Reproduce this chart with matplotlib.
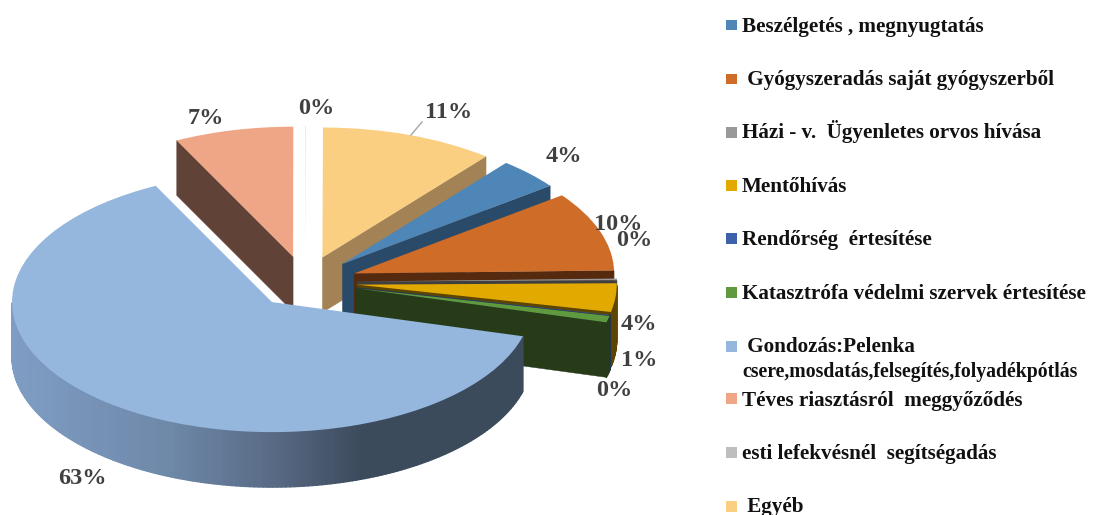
import numpy as np
import matplotlib
matplotlib.use('Agg')
import matplotlib.pyplot as plt
from matplotlib.collections import PolyCollection
from matplotlib.colors import LinearSegmentedColormap
from matplotlib.patches import Polygon, Rectangle

# ---------------- data ----------------
categories = ['Beszélgetés , megnyugtatás', ' Gyógyszeradás saját gyógyszerből',
              'Házi - v.  Ügyenletes orvos hívása', 'Mentőhívás', 'Rendőrség  értesítése',
              'Katasztrófa védelmi szervek értesítése', ' Gondozás:Pelenka',
              'Téves riasztásról  meggyőződés', 'esti lefekvésnél  segítségadás', ' Egyéb']
values = [3.9, 9.9, 0.2, 3.55, 0.05, 0.8, 63.4, 7.4, 0.02, 10.8]
pct_labels = ['4%', '10%', '0%', '4%', '0%', '1%', '63%', '7%', '0%', '11%']

# ---------------- styles ----------------
top_colors = ['#4F86B8', '#CF6C28', '#999999', '#E2A900', '#3D62AD',
              '#5F9B3E', '#95B6DD', '#EFA687', '#BEBEBE', '#FBCF82']
side_colors = ['#2A4A69', '#562A0E', '#3F3F3F', '#5C4500', '#1F3357',
               '#283B19', '#3C4B5C', '#614237', '#D8D8D8', '#A38355']
# back to front
draw_order = [8, 9, 7, 0, 1, 2, 3, 4, 5, 6]

label_px = [(564, 157), (618, 224), (634, 241), (639, 324), (614, 390), (639, 360),
            (82, 479), (206, 118), (316, 109), (449, 113)]
legend_text_y = [32, 85, 138, 191.5, 245, 299, 352, 406, 459, 512]
legend_box_y = [25, 79, 132, 185, 238, 292, 346, 398, 452, 506]

W, H = 1105, 515
CX, CY, RX, RY = 305, 282, 260, 130
DEPTH = 55 / RY


def px(x, y):
    return (x - CX) / RX, (CY - y) / RY


plt.rcParams['font.family'] = ['Liberation Serif', 'DejaVu Serif']
fig = plt.figure(figsize=(W / 100, H / 100), dpi=100)
ax = fig.add_axes([0, 0, 1, 1])

wedges, _ = ax.pie(values, colors=top_colors, startangle=51, counterclock=False,
                   explode=[0.2] * len(values), radius=1,
                   wedgeprops={'linewidth': 0})
ax.set_aspect('auto')
ax.set_xlim(px(0, 0)[0], px(W, 0)[0])
ax.set_ylim(px(0, H)[1], px(0, 0)[1])
ax.axis('off')

blue_side = LinearSegmentedColormap.from_list(
    'blue_side', [(0, '#7F9DC4'), (0.45, '#6E88A8'), (0.75, '#586A85'), (1, '#3C4B5C')])


def tip(w, a):
    return (w.center[0] + w.r * np.cos(np.radians(a)),
            w.center[1] + w.r * np.sin(np.radians(a)))


def draw_cut(w, a, color, z):
    tx, ty = tip(w, a)
    cx, cy = w.center
    pts = [(cx, cy), (tx, ty), (tx, ty - DEPTH), (cx, cy - DEPTH)]
    ax.add_patch(Polygon(pts, closed=True, facecolor=color, edgecolor=color,
                         linewidth=0.3, zorder=z))


# walls of every slice, then its top
for z, i in enumerate(draw_order):
    w = wedges[i]
    base = 2 * z + 2
    w.set_zorder(base + 1)
    # the straight cuts that look towards the viewer
    if np.sin(np.radians(w.theta1 - 90)) < -0.05:
        draw_cut(w, w.theta1, side_colors[i], base)
    if np.sin(np.radians(w.theta2 + 90)) < -0.05:
        draw_cut(w, w.theta2, side_colors[i], base)
    # the round outer wall, lower half only
    angs = np.linspace(w.theta1, w.theta2, max(3, int(abs(w.theta2 - w.theta1)) + 2))
    polys, cols = [], []
    for a0, a1 in zip(angs[:-1], angs[1:]):
        if np.sin(np.radians((a0 + a1) / 2)) > 0:
            continue
        p0, p1 = tip(w, a0), tip(w, a1)
        polys.append([p0, p1, (p1[0], p1[1] - DEPTH), (p0[0], p0[1] - DEPTH)])
        if i == 6:
            cols.append(blue_side(np.clip((p0[0] - px(12, 0)[0]) / (px(360, 0)[0] - px(12, 0)[0]), 0, 1)))
        else:
            cols.append(side_colors[i])
    if polys:
        ax.add_collection(PolyCollection(polys, facecolors=cols, edgecolors=cols,
                                         linewidths=1.0, zorder=base))

# leader line of the 11% label
ax.plot(*zip(px(411, 135), px(422, 122)), color='#A6A6A6', lw=1, zorder=40)

for lab, (x, y) in zip(pct_labels, label_px):
    ax.text(*px(x, y), lab, fontsize=17.5, fontweight='bold', color='#404040',
            ha='center', va='center', zorder=50)

# legend, spacing is uneven in the original so it is placed by hand
for i, name in enumerate(categories):
    x0, y0 = px(726, legend_box_y[i] - 5.5)
    ax.add_patch(Rectangle((x0, y0), 11 / RX, -11 / RY, facecolor=top_colors[i],
                           linewidth=0, zorder=50))
    ax.text(*px(742, legend_text_y[i]), name, fontsize=15.25, fontweight='bold',
            color='#111111', ha='left', va='baseline', zorder=50)
ax.text(*px(742, 377), 'csere,mosdatás,felsegítés,folyadékpótlás', fontsize=14.2,
        fontweight='bold', color='#111111', ha='left', va='baseline', zorder=50)

fig.savefig('out.png', dpi=100)
